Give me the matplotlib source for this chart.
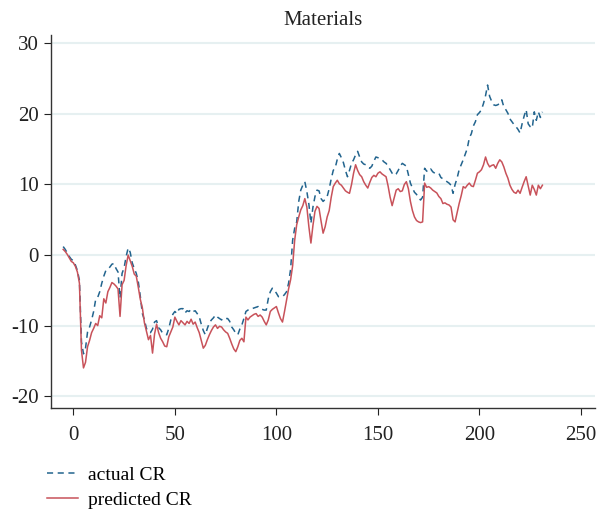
"""
Materials: actual vs predicted CR.
"""

import numpy as np
import matplotlib
matplotlib.use("Agg")
import matplotlib.pyplot as plt

# time index
t = np.arange(-5, 232)

actual_cr = [
    1.2, 0.8, 0.3, -0.2, -0.6, -0.8, -1.4, -2.2, -3.6, -12.3,
    -14.0, -13.2, -10.9, -10.2, -9.2, -8.0, -6.3, -6.0, -5.2, -4.0,
    -3.0, -2.2, -2.0, -1.7, -1.3, -1.2, -1.9, -2.4, -6.1, -2.6,
    -1.8, -0.2, 1.0, 0.4, -1.1, -1.9, -2.6, -3.8, -5.9, -8.3,
    -9.2, -10.4, -10.9, -11.0, -10.5, -9.5, -9.3, -10.3, -10.6, -11.1,
    -11.2, -11.3, -10.4, -9.2, -8.4, -8.0, -8.3, -7.7, -7.6, -7.6,
    -8.2, -7.9, -8.0, -7.7, -8.0, -7.9, -8.3, -8.75, -9.8, -10.7,
    -11.3, -10.4, -9.6, -9.2, -8.9, -8.5, -8.8, -9.0, -9.2, -8.9,
    -9.0, -9.0, -9.4, -10.2, -10.6, -11.1, -11.3, -10.5, -9.9, -9.0,
    -8.0, -7.8, -7.6, -7.6, -7.5, -7.4, -7.3, -7.6, -7.7, -7.8,
    -7.8, -6.2, -5.2, -4.7, -5.0, -5.4, -5.9, -5.9, -5.9, -5.6,
    -5.2, -4.0, -2.0, 2.1, 3.8, 4.7, 7.6, 9.2, 9.9, 10.4,
    9.0, 7.2, 4.5, 6.8, 8.3, 9.2, 9.1, 8.0, 7.6, 7.9,
    8.3, 9.4, 10.8, 12.0, 12.4, 13.6, 14.4, 13.8, 13.1, 12.0,
    11.1, 12.0, 13.0, 13.5, 14.2, 14.7, 13.9, 13.2, 12.9, 12.8,
    12.5, 12.3, 12.6, 13.3, 13.9, 13.8, 13.6, 13.5, 13.2, 13.0,
    12.6, 12.1, 11.6, 11.3, 11.5, 12.0, 12.6, 13.0, 12.8, 12.6,
    11.4, 10.2, 9.5, 8.9, 8.6, 8.1, 7.8, 8.2, 12.3, 11.9,
    11.8, 12.2, 11.8, 11.6, 11.6, 11.6, 11.0, 10.8, 10.6, 10.4,
    10.2, 9.9, 8.75, 10.0, 10.9, 12.1, 12.8, 13.5, 14.3, 15.1,
    16.6, 17.2, 18.3, 18.9, 19.9, 20.2, 20.6, 21.5, 22.6, 24.1,
    22.5, 21.8, 21.3, 21.2, 21.3, 21.5, 22.0, 21.0, 20.6, 20.1,
    19.3, 18.9, 18.5, 18.2, 17.8, 17.3, 18.6, 19.7, 20.6, 18.6,
    18.2, 18.0, 20.3, 19.1, 20.3, 19.5, 20.3,
]

predicted_cr = [
    0.8, 0.5, 0.1, -0.4, -0.9, -1.1, -1.6, -2.4, -4.0, -13.5,
    -16.0, -15.2, -13.0, -12.1, -11.0, -10.4, -9.7, -10.0, -8.6, -8.9,
    -6.2, -6.8, -5.2, -4.6, -3.9, -4.1, -4.4, -4.8, -8.7, -4.2,
    -3.6, -1.5, 0.0, -0.8, -1.6, -2.7, -3.0, -4.6, -6.3, -7.5,
    -9.6, -10.8, -12.0, -11.4, -13.9, -11.2, -9.8, -11.0, -11.8, -12.3,
    -12.9, -13.0, -11.6, -10.9, -10.2, -8.8, -9.4, -9.9, -9.3, -9.6,
    -9.9, -9.4, -9.7, -9.1, -9.8, -9.5, -10.3, -11.0, -12.1, -13.2,
    -12.8, -12.0, -11.3, -10.7, -10.2, -9.9, -10.4, -10.1, -10.2, -10.6,
    -10.9, -11.1, -11.8, -12.6, -13.3, -13.7, -13.0, -12.1, -11.8, -12.3,
    -8.8, -9.2, -8.8, -8.6, -8.4, -8.3, -8.7, -8.5, -8.8, -9.4,
    -9.9, -9.2, -8.0, -7.7, -7.5, -7.3, -8.2, -9.0, -9.5, -8.0,
    -6.4, -4.8, -3.5, -1.5, 2.1, 4.3, 5.4, 6.4, 7.0, 8.0,
    6.8, 4.0, 1.7, 4.2, 6.2, 6.9, 6.6, 4.8, 3.1, 4.0,
    5.4, 6.3, 8.2, 9.7, 10.2, 10.6, 10.1, 9.9, 9.5, 9.1,
    8.9, 8.75, 10.0, 11.6, 12.8, 12.0, 11.4, 11.1, 10.4, 9.9,
    9.5, 10.3, 11.0, 11.3, 11.1, 11.6, 11.8, 11.5, 11.3, 11.1,
    9.8, 8.2, 7.0, 8.1, 9.2, 9.4, 9.0, 9.1, 10.0, 10.4,
    9.4, 7.6, 6.3, 5.4, 4.9, 4.7, 4.6, 4.7, 10.2, 9.6,
    9.7, 9.5, 9.2, 9.0, 8.8, 8.3, 8.0, 7.3, 7.4, 7.2,
    7.1, 6.8, 5.0, 4.7, 6.0, 7.3, 8.4, 9.7, 9.5, 9.9,
    10.2, 9.8, 9.7, 10.6, 11.6, 11.8, 12.1, 12.8, 13.9, 13.0,
    12.5, 12.7, 12.8, 12.3, 13.0, 13.5, 13.2, 12.5, 11.6, 10.9,
    9.9, 9.3, 8.9, 8.75, 9.2, 8.75, 9.6, 10.4, 11.1, 9.8,
    8.5, 9.9, 9.3, 8.5, 9.9, 9.4, 9.9,
]

x_ticks = [0, 50, 100, 150, 200, 250]
y_ticks = [-20, -10, 0, 10, 20, 30]

plt.rcParams['font.family'] = ['Liberation Serif', 'DejaVu Serif']
plt.rcParams['axes.unicode_minus'] = False

fig = plt.figure(figsize=(6.0, 5.14), dpi=100)
ax = fig.add_axes([0.085, 0.206, 0.907, 0.726])

ax.plot(t, actual_cr, color='#22648e', lw=1.1, ls=(0, (4, 3)), label='actual CR')
ax.plot(t, predicted_cr, color='#c8525a', lw=1.1, label='predicted CR')

ax.set_xlim(-11, 257)
ax.set_ylim(-21.7, 31.2)
ax.set_xticks(x_ticks)
ax.set_yticks(y_ticks)
ax.yaxis.grid(True, color='#e6f0f1', lw=1.5)
ax.set_axisbelow(True)

for s in ['top', 'right']:
    ax.spines[s].set_visible(False)
for s in ['left', 'bottom']:
    ax.spines[s].set_color('#333333')
    ax.spines[s].set_linewidth(1.0)

ax.tick_params(axis='x', direction='out', length=5, pad=8, labelsize=15, colors='#222222')
ax.tick_params(axis='y', direction='out', length=5, pad=4, labelsize=15, colors='#222222')

ax.set_title('Materials', fontsize=15, color='#222222', pad=7)

# legend sits below the axes, lower left
fig.legend(loc='upper left', bbox_to_anchor=(0.065, 0.108), frameon=False,
           fontsize=14, handlelength=1.6, handletextpad=0.5, labelspacing=0.4,
           borderaxespad=0)

fig.savefig('out.png', dpi=100)
